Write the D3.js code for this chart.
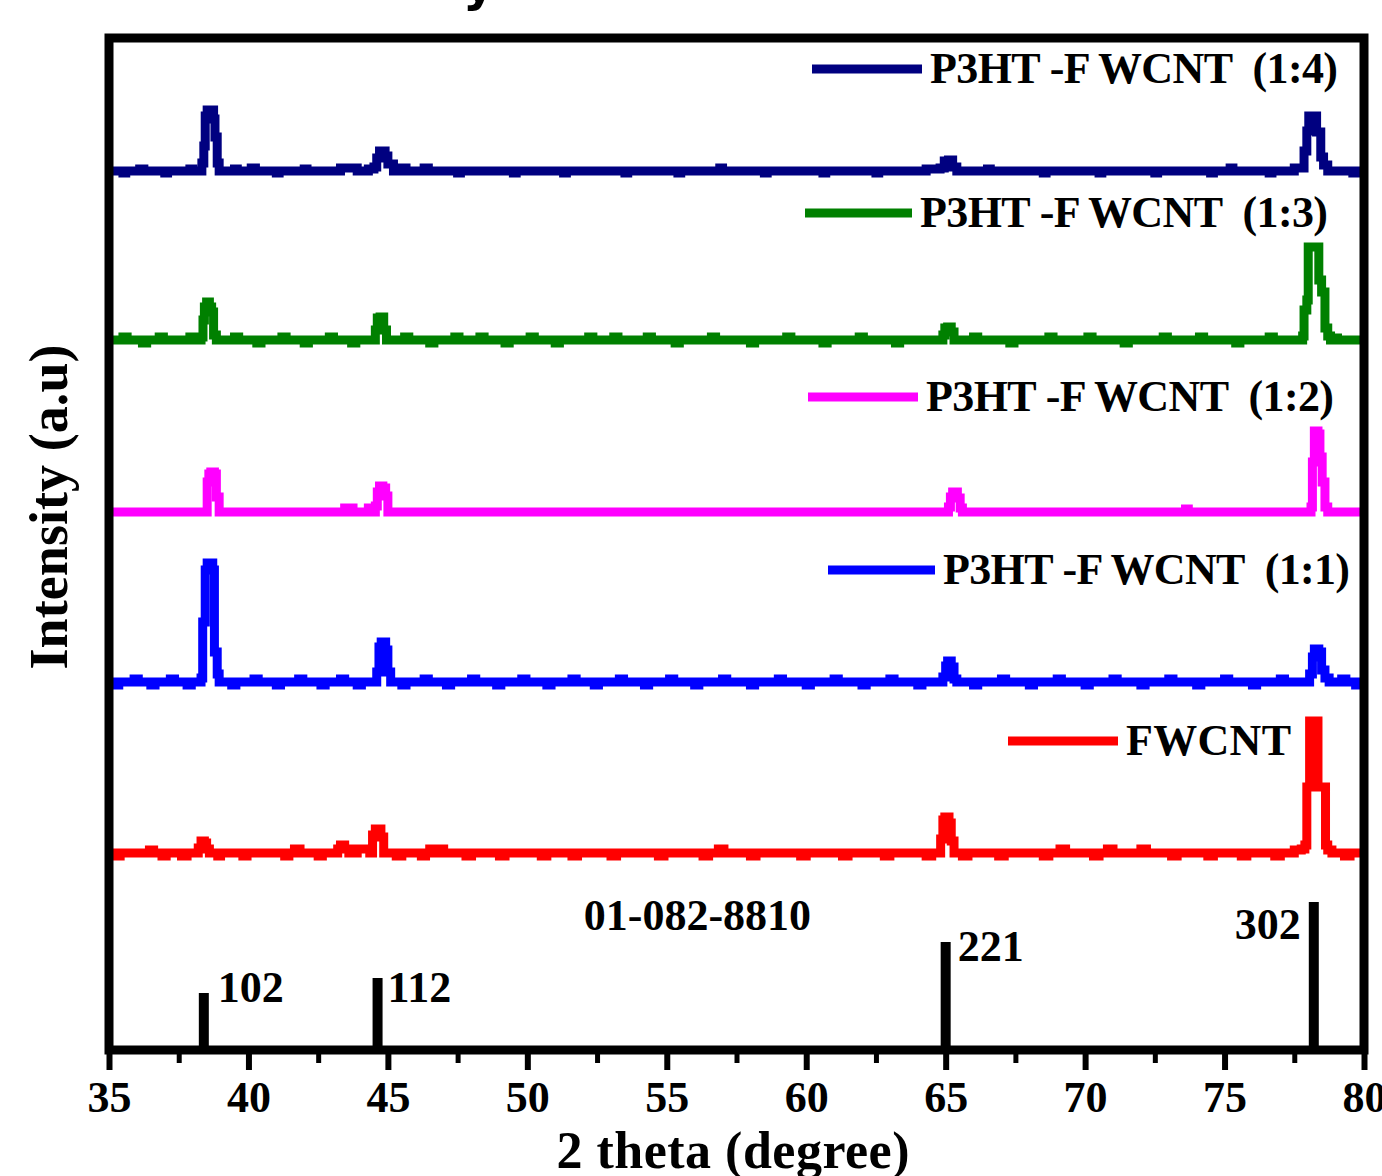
<!DOCTYPE html>
<html>
<head>
<meta charset="utf-8">
<script src="https://cdn.jsdelivr.net/npm/d3@7"></script>
<style>
  body { margin: 0; background: #fff; }
  svg { display: block; background: #fff; }
  text { font-family: "Liberation Serif", "Times New Roman", serif; font-weight: bold; fill: #000; white-space: pre; }
</style>
</head>
<body>
<svg id="chart" width="1382" height="1176"></svg>
<script>
// 2θ (degree), relative intensity (a.u.)
const fwcnt = [
  [35,0],[35.25,-3],[35.4,0],[36.0,0],[36.45,3],[36.6,0],[36.9,-3],[37.05,0],[37.6,-3],[37.8,0],
  [38.1,0],[38.2,5],[38.3,12],[38.42,10],[38.5,4],[38.6,0],[38.9,-3],[39.0,0],[39.8,-3],[39.95,0],
  [40.6,0],[41.3,-3],[41.45,0],[41.65,4],[41.85,0],[42.5,-3],[42.65,0],[43.1,0],[43.2,4],[43.3,8],[43.45,4],
  [43.6,0],[43.9,4],[44.2,4],[44.35,0],[44.45,18],[44.55,24],[44.75,16],[44.85,0],[45.3,-3],[45.5,0],
  [46.2,-3],[46.35,0],[46.5,4],[46.65,0],[46.85,4],[47.0,0],[47.8,-3],[48.0,0],[49.0,-3],[49.2,0],
  [50.5,-3],[50.7,0],[51.6,-3],[51.8,0],[53.0,-3],[53.2,0],[54.7,-3],[54.9,0],[56.3,-3],[56.5,0],
  [56.85,4],[57.05,0],[58.0,-3],[58.2,0],[59.8,-3],[60.0,0],[61.3,-3],[61.5,0],[62.8,-3],[63,0],
  [64.3,-3],[64.5,0],[64.75,0],[64.82,14],[64.9,33],[64.97,36],[65.12,30],[65.2,12],[65.3,0],[65.6,-3],
  [65.8,0],[66.9,-3],[67.1,0],[68.5,-3],[68.7,0],[69.1,4],[69.3,0],[70.3,-3],[70.5,0],[70.8,4],
  [71.0,0],[72.0,4],[72.2,0],[73.1,-3],[73.3,0],[74.4,-3],[74.6,0],[75.6,-3],[75.8,0],[76.8,-3],
  [77.0,0],[77.5,3],[77.75,4],[77.88,8],[77.95,66],[78.05,132],[78.3,132],[78.35,66],[78.55,66],[78.62,8],
  [78.7,3],[78.85,0],[79.3,-3],[79.5,0],[80,0]
];
const p3htRatio11 = [
  [35,0],[35.2,-3],[35.35,0],[35.9,3],[36.05,0],[36.5,-3],[36.65,0],[37.2,3],[37.35,0],[37.8,-3],
  [37.95,0],[38.2,0],[38.3,4],[38.36,60],[38.45,112],[38.52,119],[38.65,119],[38.72,112],[38.78,30],[38.88,8],
  [38.95,0],[39.4,-3],[39.55,0],[40.2,3],[40.35,0],[41.0,-3],[41.15,0],[41.8,3],[41.95,0],[42.6,-3],
  [42.75,0],[43.3,3],[43.45,0],[43.9,-3],[44.05,0],[44.5,0],[44.6,10],[44.68,35],[44.76,40],[44.92,32],
  [45.0,10],[45.1,0],[45.5,-3],[45.65,0],[46.3,3],[46.45,0],[47.1,-3],[47.25,0],[48.0,3],[48.15,0],
  [48.9,-3],[49.05,0],[49.8,3],[49.95,0],[50.7,-3],[50.85,0],[51.6,3],[51.75,0],[52.4,-3],[52.55,0],
  [53.3,3],[53.45,0],[54.2,-3],[54.35,0],[55.1,3],[55.25,0],[56.0,-3],[56.15,0],[57.0,3],[57.15,0],
  [58.0,-3],[58.15,0],[59.0,3],[59.15,0],[60.0,-3],[60.15,0],[61.0,3],[61.15,0],[62.0,-3],[62.15,0],
  [63.0,3],[63.15,0],[64.0,-3],[64.15,0],[64.8,0],[64.9,5],[65.0,16],[65.07,21],[65.2,15],[65.3,3],
  [65.4,0],[66.0,-3],[66.15,0],[67.0,3],[67.15,0],[68.0,-3],[68.15,0],[69.0,3],[69.15,0],[70.0,-3],
  [70.15,0],[71.0,3],[71.15,0],[72.0,-3],[72.15,0],[73.0,3],[73.15,0],[74.0,-3],[74.15,0],[75.0,3],
  [75.15,0],[76.0,-3],[76.15,0],[77.0,3],[77.15,0],[77.9,0],[78.05,8],[78.15,25],[78.22,33],[78.38,30],
  [78.48,12],[78.6,4],[78.75,0],[79.2,3],[79.35,0],[79.7,-3],[79.85,0],[80,0]
];
const p3htRatio12 = [
  [35,0],[36.5,0],[37.5,0],[38.45,0],[38.52,30],[38.58,38],[38.65,40],[38.78,38],[38.85,15],[38.95,0],
  [40.0,0],[42.0,0],[43.4,0],[43.45,4],[43.7,4],[43.75,0],[44.25,0],[44.3,4],[44.38,0],[44.55,6],
  [44.62,20],[44.7,26],[44.82,24],[44.92,16],[45.0,0],[48.0,0],[52.0,0],[56.0,0],[60.0,0],[64.0,0],
  [65.0,0],[65.1,5],[65.17,15],[65.25,20],[65.42,14],[65.52,4],[65.6,0],[70.0,0],[73.5,0],[73.6,3],
  [73.7,0],[76.0,0],[78.0,0],[78.1,5],[78.15,50],[78.22,81],[78.35,78],[78.42,55],[78.5,30],[78.6,5],
  [78.7,0],[80,0]
];
const p3htRatio13 = [
  [35,0],[35.5,3],[35.65,0],[36.2,-3],[36.35,0],[36.8,3],[36.95,0],[37.5,0],[37.9,3],[38.05,0],
  [38.2,0],[38.3,3],[38.37,20],[38.42,33],[38.5,38],[38.6,33],[38.68,28],[38.75,5],[38.85,0],[39.5,3],
  [39.65,0],[40.3,-3],[40.45,0],[41.2,3],[41.35,0],[42.0,-3],[42.15,0],[42.9,3],[43.05,0],[43.7,-3],
  [43.85,0],[44.45,0],[44.55,10],[44.62,22],[44.72,23],[44.85,10],[44.95,0],[45.6,3],[45.75,0],[46.5,-3],
  [46.65,0],[47.4,3],[47.55,0],[48.3,3],[48.45,0],[49.2,-3],[49.35,0],[50.1,3],[50.25,0],[51.0,-3],
  [51.15,0],[52.2,3],[52.35,0],[53.1,3],[53.25,0],[54.3,3],[54.45,0],[55.3,-3],[55.45,0],[56.6,3],
  [56.75,0],[58.0,-3],[58.15,0],[59.3,3],[59.45,0],[60.6,-3],[60.75,0],[61.9,3],[62.05,0],[63.2,-3],
  [63.35,0],[64.8,0],[64.9,5],[64.97,12],[65.07,13],[65.2,8],[65.3,0],[66.0,3],[66.15,0],[67.3,-3],
  [67.45,0],[68.7,3],[68.85,0],[70.1,3],[70.25,0],[71.4,-3],[71.55,0],[72.8,3],[72.95,0],[74.1,3],
  [74.25,0],[75.4,-3],[75.55,0],[76.6,3],[76.75,0],[77.7,0],[77.8,4],[77.85,30],[77.95,40],[78.0,93],
  [78.3,93],[78.38,60],[78.48,48],[78.6,12],[78.7,4],[78.8,0],[78.95,2],[79.05,0],[80,0]
];
const p3htRatio14 = [
  [35,0],[35.5,-2],[35.6,0],[36.1,2],[36.25,0],[37,-2],[37.1,0],[37.9,2],[38.0,0],[38.25,0],[38.33,8],[38.4,25],
  [38.45,55],[38.52,61],[38.68,61],[38.75,52],[38.8,34],[38.88,8],[38.95,0],[39.5,2],[39.6,0],[40.1,3],[40.25,0],
  [41,-2],[41.1,0],[42,2],[42.1,0],[43.3,3],[43.6,3],[43.9,0],[44.3,2],[44.5,4],[44.6,13],
  [44.7,20],[44.9,15],[45.0,7],[45.2,0],[45.5,3],[45.65,0],[46.3,3],[46.45,0],[47.5,-2],[47.6,0],
  [49.5,-2],[49.6,0],[51.3,-2],[51.4,0],[53.5,-2],[53.6,0],[55.4,-2],[55.5,0],[56.9,3],[57.0,0],
  [58.5,-2],[58.6,0],[60.6,-2],[60.7,0],[62.5,-2],[62.6,0],[64.3,2],[64.8,3],[64.95,10],[65.1,11],
  [65.25,4],[65.4,0],[66.5,2],[66.6,0],[68.5,-2],[68.6,0],[70.5,-2],[70.6,0],[72.5,-2],[72.6,0],
  [74.5,-2],[74.6,0],[75.2,3],[75.3,0],[76.6,-2],[76.7,0],[77.5,3],[77.75,3],[77.85,20],[77.95,40],[78.02,55],
  [78.2,55],[78.3,39],[78.45,14],[78.55,6],[78.7,0],[79.2,0],[79.6,-2],[79.7,0],[80,0]
];

const seriesData = [fwcnt, p3htRatio11, p3htRatio12, p3htRatio13, p3htRatio14];
const seriesNames = ["FWCNT", "P3HT -F WCNT  (1:1)", "P3HT -F WCNT  (1:2)", "P3HT -F WCNT  (1:3)", "P3HT -F WCNT  (1:4)"];
const seriesOffsets = [197, 368, 538, 710, 879];
const seriesColors = ["#ff0000", "#0000ff", "#ff00ff", "#008000", "#000080"];

// reference pattern 01-082-8810
const refTheta = [38.4, 44.63, 65.0, 78.2];
const refIntensity = [57, 72, 108, 148];
const refHkl = ["102", "112", "221", "302"];

const xMajorTicks = [35, 40, 45, 50, 55, 60, 65, 70, 75, 80];
const xMinorTicks = [37.5, 42.5, 47.5, 52.5, 57.5, 62.5, 67.5, 72.5, 77.5];

// layout
const svg = d3.select("#chart");
const plot = { left: 109, right: 1364, top: 38, bottom: 1050 };
const lineWidth = 9;
const legendPos = [
  { x0: 1008, x1: 1118, y: 741 },
  { x0: 828, x1: 935, y: 570 },
  { x0: 808, x1: 918, y: 397 },
  { x0: 805, x1: 912, y: 213 },
  { x0: 812, x1: 922, y: 69 }
];
const legendTextWidth = [165, 407, 408, 408, 408];
const hklLabelPos = [
  { dx: 14, dy: 9, anchor: "start" },
  { dx: 10, dy: 24, anchor: "start" },
  { dx: 12, dy: 19, anchor: "start" },
  { dx: -13, dy: 37, anchor: "end" }
];

const x = d3.scaleLinear().domain([35, 80]).range([plot.left, plot.right]);
const y = d3.scaleLinear().domain([0, 1012]).range([plot.bottom, plot.top]);

// title fragment cut by the top edge
svg.append("text")
  .attr("x", 479)
  .attr("y", 1)
  .attr("text-anchor", "middle")
  .style("font-family", "'DejaVu Sans', sans-serif")
  .style("font-size", "50px")
  .text("y");

// XRD patterns
seriesData.forEach((data, i) => {
  const line = d3.line()
    .x(d => x(d[0]))
    .y(d => y(seriesOffsets[i] + d[1]))
    .curve(d3.curveStepAfter);

  svg.append("path")
    .datum(data)
    .attr("fill", "none")
    .attr("stroke", seriesColors[i])
    .attr("stroke-width", lineWidth)
    .attr("stroke-linejoin", "miter")
    .attr("d", line);

  const lp = legendPos[i];
  svg.append("line")
    .attr("x1", lp.x0).attr("x2", lp.x1)
    .attr("y1", lp.y).attr("y2", lp.y)
    .attr("stroke", seriesColors[i])
    .attr("stroke-width", lineWidth);

  svg.append("text")
    .attr("x", lp.x1 + 8)
    .attr("y", lp.y + 14)
    .attr("textLength", legendTextWidth[i])
    .attr("lengthAdjust", "spacing")
    .style("font-size", "44px")
    .text(seriesNames[i]);
});

// reference sticks
svg.selectAll(".ref")
  .data(refTheta)
  .enter()
  .append("line")
  .attr("class", "ref")
  .attr("x1", d => x(d))
  .attr("x2", d => x(d))
  .attr("y1", y(0))
  .attr("y2", (d, i) => y(refIntensity[i]))
  .attr("stroke", "#000")
  .attr("stroke-width", 10);

svg.selectAll(".hkl")
  .data(refTheta)
  .enter()
  .append("text")
  .attr("class", "hkl")
  .attr("x", (d, i) => x(d) + hklLabelPos[i].dx)
  .attr("y", (d, i) => y(refIntensity[i]) + hklLabelPos[i].dy)
  .attr("text-anchor", (d, i) => hklLabelPos[i].anchor)
  .style("font-size", "44px")
  .text((d, i) => refHkl[i]);

svg.append("text")
  .attr("x", x(56.1))
  .attr("y", 930)
  .attr("text-anchor", "middle")
  .style("font-size", "44px")
  .text("01-082-8810");

// x axis
const xAxis = svg.append("g")
  .attr("transform", `translate(0,${plot.bottom})`)
  .call(d3.axisBottom(x).tickValues(xMajorTicks).tickSize(20).tickSizeOuter(0).tickFormat(d3.format("d")));
xAxis.select(".domain").remove();
xAxis.selectAll(".tick line").attr("stroke", "#000").attr("stroke-width", 6);
xAxis.selectAll(".tick text")
  .attr("y", 62)
  .attr("dy", 0)
  .style("font-size", "44px")
  .style("font-family", "'Liberation Serif', 'Times New Roman', serif")
  .style("font-weight", "bold")
  .attr("fill", "#000");

svg.append("g")
  .attr("transform", `translate(0,${plot.bottom})`)
  .call(d3.axisBottom(x).tickValues(xMinorTicks).tickSize(13).tickSizeOuter(0).tickFormat(""))
  .call(g => g.select(".domain").remove())
  .selectAll(".tick line").attr("stroke", "#000").attr("stroke-width", 5);

// frame
svg.append("rect")
  .attr("x", plot.left)
  .attr("y", plot.top)
  .attr("width", plot.right - plot.left)
  .attr("height", plot.bottom - plot.top)
  .attr("fill", "none")
  .attr("stroke", "#000")
  .attr("stroke-width", lineWidth);

// axis titles
svg.append("text")
  .attr("x", 733)
  .attr("y", 1168)
  .attr("text-anchor", "middle")
  .attr("textLength", 353)
  .attr("lengthAdjust", "spacing")
  .style("font-size", "52px")
  .text("2 theta (degree)");

svg.append("text")
  .attr("transform", "translate(67,507) rotate(-90)")
  .attr("text-anchor", "middle")
  .attr("textLength", 325)
  .attr("lengthAdjust", "spacing")
  .style("font-size", "54px")
  .text("Intensity (a.u)");
</script>
</body>
</html>
